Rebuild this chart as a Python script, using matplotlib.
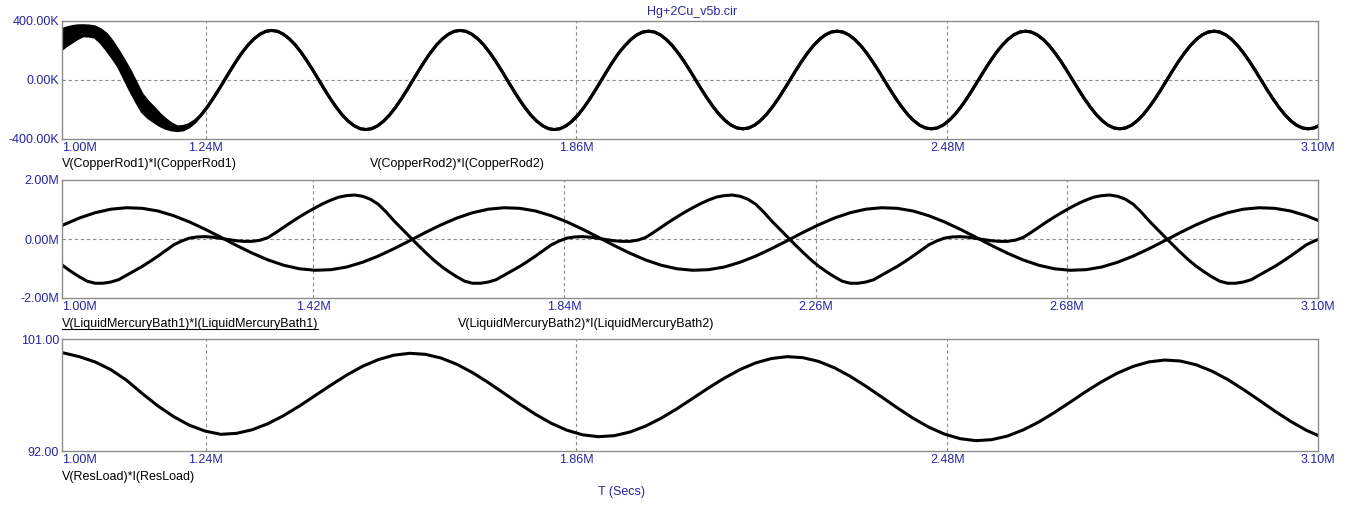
import matplotlib
matplotlib.use('Agg')
import matplotlib.pyplot as plt
import numpy as np

plt.rcParams['font.family'] = ['Liberation Sans', 'DejaVu Sans']

# sample times (in M) for the copper rod traces (K)
t_top = 0.9961 + 0.009847 * np.arange(215)
copper_rod1 = [
    335, 350, 361, 367, 368, 366, 360, 340, 309, 258, 196, 130, 60, -20, -98, -148,
    -188, -232, -268, -298, -318, -315, -302, -276, -238, -187, -129, -66, 0, 66, 129, 187,
    238, 279, 310, 330, 336, 330, 310, 279, 238, 187, 129, 66, 0, -66, -129, -187,
    -238, -279, -310, -330, -336, -330, -310, -279, -238, -187, -129, -66, 0, 66, 129, 187,
    238, 279, 310, 330, 336, 330, 310, 279, 238, 187, 129, 66, 0, -66, -129, -187,
    -238, -279, -310, -330, -336, -330, -310, -279, -238, -187, -129, -66, 0, 66, 129, 187,
    234, 275, 306, 325, 331, 325, 306, 275, 234, 184, 127, 65, 0, -65, -127, -184,
    -234, -275, -306, -325, -331, -325, -306, -275, -234, -184, -127, -65, 0, 65, 127, 184,
    234, 275, 306, 325, 331, 325, 306, 275, 234, 184, 127, 65, 0, -65, -127, -184,
    -234, -275, -306, -325, -331, -325, -306, -275, -234, -184, -127, -65, 0, 65, 127, 184,
    234, 275, 306, 325, 331, 325, 306, 275, 234, 184, 127, 65, 0, -65, -127, -184,
    -234, -275, -306, -325, -331, -325, -306, -275, -234, -184, -127, -65, 0, 65, 127, 184,
    234, 275, 306, 325, 331, 325, 306, 275, 234, 184, 127, 65, 0, -65, -127, -184,
    -234, -275, -306, -325, -331, -325, -306,
]
# second rod: wider start-up ripple, then on top of rod 1
copper_rod2 = [
    195, 228, 254, 280, 300, 298, 290, 254, 204, 150, 91, 10, -71, -145, -214, -254,
    -282, -308, -327, -338, -343, -338, -318, -285,
] + copper_rod1[24:]

# mercury bath 1 and load, sampled every 0.0263 M
t_mid = 1.0552 + 0.0263 * np.arange(-3, 79)
mercury_bath1 = [
    0.22, 0.48, 0.71,
    0.89, 1.01, 1.06, 1.04, 0.95, 0.79, 0.58, 0.33, 0.06, -0.22, -0.48, -0.71,
    -0.89, -1.01, -1.06, -1.04, -0.95, -0.79, -0.58, -0.33, -0.06, 0.22, 0.48, 0.71,
    0.89, 1.01, 1.06, 1.04, 0.95, 0.79, 0.58, 0.33, 0.06, -0.22, -0.48, -0.71,
    -0.89, -1.01, -1.06, -1.04, -0.95, -0.79, -0.58, -0.33, -0.06, 0.22, 0.48, 0.71,
    0.89, 1.01, 1.06, 1.04, 0.95, 0.79, 0.58, 0.33, 0.06, -0.22, -0.48, -0.71,
    -0.89, -1.01, -1.06, -1.04, -0.95, -0.79, -0.58, -0.33, -0.06, 0.22, 0.48, 0.71,
    0.89, 1.01, 1.06, 1.04, 0.95, 0.79, 0.58,
]
res_load = [
    100.10, 99.88, 99.58, 99.16, 98.54, 97.69, 96.62, 95.62, 94.76, 94.07, 93.60,
    93.34, 93.42, 93.71, 94.20, 94.85, 95.62, 96.46, 97.30, 98.10, 98.80, 99.34, 99.70, 99.85,
    99.77, 99.47, 98.97, 98.30, 97.50, 96.64, 95.77, 94.95, 94.23, 93.67, 93.30, 93.15,
    93.23, 93.52, 94.00, 94.64, 95.40, 96.23, 97.07, 97.85, 98.54, 99.08, 99.43, 99.58,
    99.50, 99.20, 98.69, 98.01, 97.21, 96.35, 95.47, 94.64, 93.92, 93.36, 92.99, 92.83,
    92.91, 93.20, 93.69, 94.33, 95.10, 95.93, 96.78, 97.57, 98.26, 98.80, 99.16, 99.31,
    99.23, 98.93, 98.42, 97.75, 96.95, 96.09, 95.21, 94.39, 93.67, 93.11,
]

# mercury bath 2 has sharper features, sampled every 0.01315 M
t_bath2 = 1.0552 + 0.01315 * np.arange(-6, 157)
mercury_bath2 = [
    -0.45, -0.70, -0.92, -1.11, -1.28, -1.43,
    -1.50, -1.50, -1.46, -1.38, -1.23, -1.08, -0.93, -0.76, -0.58, -0.39,
    -0.20, -0.07, 0.03, 0.07, 0.08, 0.06, 0.02, -0.02, -0.06, -0.08,
    -0.08, -0.04, 0.05, 0.22, 0.40, 0.58, 0.75, 0.91, 1.06, 1.20,
    1.32, 1.42, 1.47, 1.49, 1.45, 1.35, 1.18, 0.92, 0.62, 0.35,
    0.08, -0.19, -0.45, -0.70, -0.92, -1.11, -1.28, -1.43,
    -1.50, -1.50, -1.46, -1.38, -1.23, -1.08, -0.93, -0.76, -0.58, -0.39,
    -0.20, -0.07, 0.03, 0.07, 0.08, 0.06, 0.02, -0.02, -0.06, -0.08,
    -0.08, -0.04, 0.05, 0.22, 0.40, 0.58, 0.75, 0.91, 1.06, 1.20,
    1.32, 1.42, 1.47, 1.49, 1.45, 1.35, 1.18, 0.92, 0.62, 0.35,
    0.08, -0.19, -0.45, -0.70, -0.92, -1.11, -1.28, -1.43,
    -1.50, -1.50, -1.46, -1.38, -1.23, -1.08, -0.93, -0.76, -0.58, -0.39,
    -0.20, -0.07, 0.03, 0.07, 0.08, 0.06, 0.02, -0.02, -0.06, -0.08,
    -0.08, -0.04, 0.05, 0.22, 0.40, 0.58, 0.75, 0.91, 1.06, 1.20,
    1.32, 1.42, 1.47, 1.49, 1.45, 1.35, 1.18, 0.92, 0.62, 0.35,
    0.08, -0.19, -0.45, -0.70, -0.92, -1.11, -1.28, -1.43,
    -1.50, -1.50, -1.46, -1.38, -1.23, -1.08, -0.93, -0.76, -0.58, -0.39,
    -0.20, -0.07, 0.03,
]

# tick positions and labels
xt_a = [1.00, 1.24, 1.86, 2.48, 3.10]
xl_a = ['1.00M', '1.24M', '1.86M', '2.48M', '3.10M']
xt_b = [1.00, 1.42, 1.84, 2.26, 2.68, 3.10]
xl_b = ['1.00M', '1.42M', '1.84M', '2.26M', '2.68M', '3.10M']

BLUE = '#2626a0'
GRAY = '#8c8c8c'
W, H = 1353, 513

fig = plt.figure(figsize=(W / 100, H / 100), dpi=100)


def box(top, bottom):
    # axes rectangle from pixel rows of the picture
    return [62 / W, 1 - bottom / H, 1256 / W, (bottom - top) / H]


def style(ax, xticks, xlabels, ylim, yticks, ylabels, hgrid):
    ax.set_xlim(1.0, 3.1)
    ax.set_ylim(*ylim)
    ax.set_xticks(xticks)
    ax.set_xticklabels(xlabels)
    ax.set_yticks(yticks)
    ax.set_yticklabels(ylabels)
    ax.tick_params(length=0, labelcolor=BLUE, labelsize=9, pad=2)
    ax.get_xticklabels()[0].set_horizontalalignment('left')
    for s in ax.spines.values():
        s.set_color(GRAY)
        s.set_linewidth(1)
    # dashed grid lines inside the frame
    for x in xticks[1:-1]:
        ax.axvline(x, color=GRAY, lw=0.8, ls=(0, (3, 2.5)), zorder=0)
    for y in hgrid:
        ax.axhline(y, color=GRAY, lw=0.8, ls=(0, (3, 2.5)), zorder=0)


def trace(ax, t, y):
    ax.plot(t, y, color='black', lw=2.2, solid_joinstyle='round')


def fig_text(x, y, s, **kw):
    return fig.text(x / W, 1 - y / H, s, fontsize=9, **kw)


# top panel: copper rods
ax1 = fig.add_axes(box(21, 139))
ax1.fill_between(t_top, copper_rod1, copper_rod2, color='black', lw=0)
trace(ax1, t_top, copper_rod1)
trace(ax1, t_top, copper_rod2)
style(ax1, xt_a, xl_a, (-400, 400), [-400, 0, 400],
      ['-400.00K', '0.00K', '400.00K'], [0])

# middle panel: mercury baths
ax2 = fig.add_axes(box(180, 298))
trace(ax2, t_mid, mercury_bath1)
trace(ax2, t_bath2, mercury_bath2)
style(ax2, xt_b, xl_b, (-2, 2), [-2, 0, 2],
      ['-2.00M', '0.00M', '2.00M'], [0])

# bottom panel: load
ax3 = fig.add_axes(box(339, 451))
trace(ax3, t_mid, res_load)
style(ax3, xt_a, xl_a, (92, 101), [92, 101], ['92.00', '101.00'], [])

# title, trace names and time axis label
fig_text(692, 12, 'Hg+2Cu_v5b.cir', color=BLUE, ha='center', va='center')
fig_text(62, 164, 'V(CopperRod1)*I(CopperRod1)', va='center')
fig_text(370, 164, 'V(CopperRod2)*I(CopperRod2)', va='center')
sel = fig_text(62, 324, 'V(LiquidMercuryBath1)*I(LiquidMercuryBath1)', va='center')
fig_text(458, 324, 'V(LiquidMercuryBath2)*I(LiquidMercuryBath2)', va='center')
fig_text(62, 477, 'V(ResLoad)*I(ResLoad)', va='center')
fig_text(621, 492, 'T (Secs)', color=BLUE, ha='center', va='center')

# underline the selected trace name
fig.canvas.draw()
bb = sel.get_window_extent()
fig.add_artist(plt.Line2D([bb.x0 / W, bb.x1 / W], [(bb.y0 + 1) / H] * 2,
                          color='black', lw=0.8))

fig.savefig('out.png', dpi=100)
